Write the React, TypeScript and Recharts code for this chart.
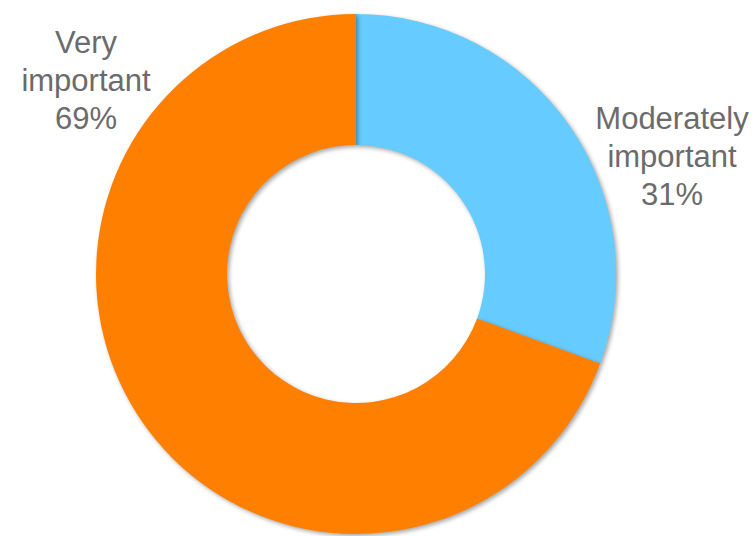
import { PieChart, Pie, Cell } from "recharts";

const categories = ["Moderately important", "Very important"];
const shares = [30.6, 69.4];
const colors = ["#66CCFF", "#FF8000"];

// label lines per slice (word-wrapped as in the original)
const labelLines = [["Moderately", "important"], ["Very", "important"]];

// where each label block sits (centre x, baseline of first line)
const LABEL_POS = [
  { x: 672, y: 129 },
  { x: 86, y: 53 },
];
const LINE_GAP = 38;

const data = categories.map((name, i) => ({ name, value: shares[i] }));

function renderLabel(props: any) {
  const { index, value } = props;
  const pos = LABEL_POS[index];
  const lines = [...labelLines[index], `${Math.round(value)}%`];
  return (
    <g key={`lbl-${index}`}>
      {lines.map((t, j) => (
        <text
          key={j}
          x={pos.x}
          y={pos.y + j * LINE_GAP}
          textAnchor="middle"
          fill="#6b6b6b"
          fontSize={31}
          fontFamily="'Liberation Sans', Arial, sans-serif"
        >
          {t}
        </text>
      ))}
    </g>
  );
}

export default function App() {
  return (
    <div style={{ position: "absolute", left: 0, top: 0, background: "#fff" }}>
      <style>{`.recharts-pie-sector { filter: drop-shadow(2px 2px 2px rgba(0,0,0,0.35)); }`}</style>
      <PieChart width={755} height={536} margin={{ top: 0, right: 0, bottom: 0, left: 0 }}>
        <Pie
          data={data}
          dataKey="value"
          nameKey="name"
          cx={356}
          cy={274}
          innerRadius={129}
          outerRadius={260}
          startAngle={90}
          endAngle={-270}
          stroke="none"
          label={renderLabel}
          labelLine={false}
          isAnimationActive={false}
        >
          {data.map((d, i) => (
            <Cell key={d.name} fill={colors[i]} />
          ))}
        </Pie>
      </PieChart>
    </div>
  );
}
